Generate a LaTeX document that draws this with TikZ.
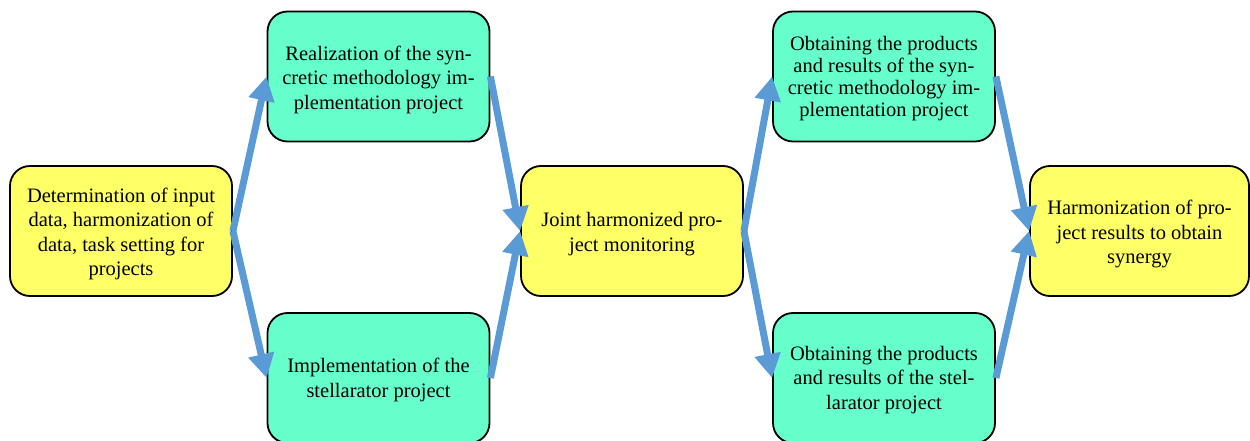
\documentclass[tikz,border=0pt]{standalone}
\usepackage{fontspec}
\setmainfont{Liberation Serif}
\usetikzlibrary{arrows.meta}
\definecolor{boxyellow}{RGB}{255,255,102}
\definecolor{boxgreen}{RGB}{102,255,204}
\definecolor{arrowblue}{RGB}{91,155,213}
\tikzset{
  box/.style={draw=black, line width=1.8pt, rounded corners=20pt,
    minimum width=222pt, minimum height=130pt, inner sep=0pt},
  ybox/.style={box, fill=boxyellow},
  gbox/.style={box, fill=boxgreen},
  txt/.style={align=center, inner sep=0pt,
    font=\fontsize{20.5}{24.5}\selectfont},
  flow/.style={draw=arrowblue, line width=7pt,
    -{Triangle[width=25pt,length=24pt]}}
}
\begin{document}
\begin{tikzpicture}[x=1pt,y=-1pt]
\useasboundingbox (0,0) rectangle (1250,441);
\node[ybox] (L) at (121,231) {};
\node[gbox] (T1) at (378.5,76.5) {};
\node[gbox] (B1) at (378.5,378) {};
\node[ybox] (M) at (632,231) {};
\node[gbox] (T2) at (884,76.5) {};
\node[gbox] (B2) at (884,378) {};
\node[ybox, minimum width=219pt] (R) at (1139.5,231) {};
\node[txt] (Lt) at ([yshift=-3pt]L.center) {Determination of input\\data, harmonization of\\data, task setting for\\projects};
\node[txt] (T1t) at ([yshift=-3pt]T1.center) {Realization of the syn-\\cretic methodology im-\\plementation project};
\node[txt] (B1t) at ([yshift=-2pt]B1.center) {Implementation of the\\stellarator project};
\node[txt] (Mt) at ([yshift=-3pt]M.center) {Joint harmonized pro-\\ject monitoring};
\node[txt, font=\fontsize{20.5}{22.2}\selectfont] (T2t) at ([yshift=-2pt]T2.center) {Obtaining the products\\and results of the syn-\\cretic methodology im-\\plementation project};
\node[txt] (B2t) at ([yshift=-2pt]B2.center) {Obtaining the products\\and results of the stel-\\larator project};
\node[txt] (Rt) at ([yshift=-3pt]R.center) {Harmonization of pro-\\ject results to obtain\\synergy};
\draw[flow] (L.east) -- (T1.west);
\draw[flow] (L.east) -- (B1.west);
\draw[flow] (T1.east) -- (M.west);
\draw[flow] (B1.east) -- (M.west);
\draw[flow] (M.east) -- (T2.west);
\draw[flow] (M.east) -- (B2.west);
\draw[flow] (T2.east) -- (R.west);
\draw[flow] (B2.east) -- (R.west);
\end{tikzpicture}
\end{document}
